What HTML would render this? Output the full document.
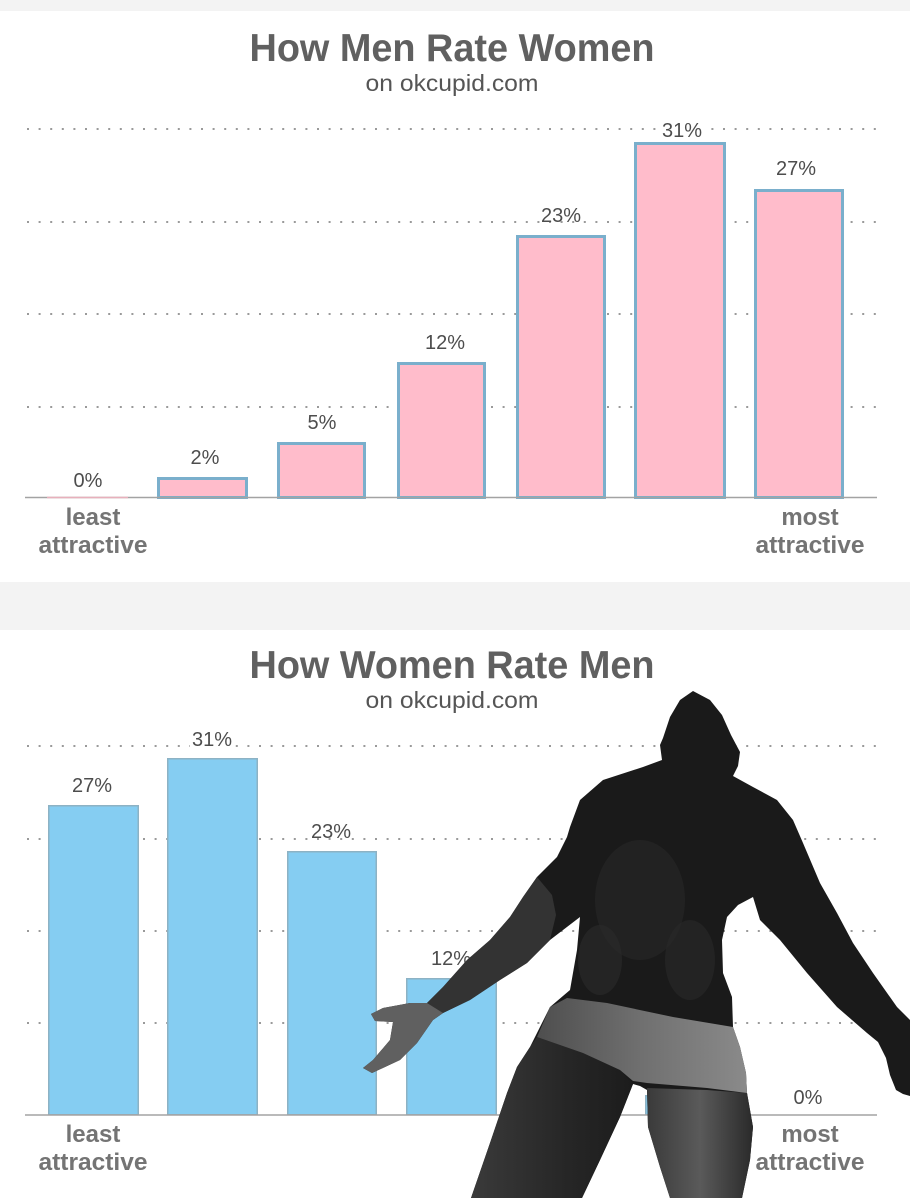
<!DOCTYPE html>
<html>
<head>
<meta charset="utf-8">
<style>
  html,body{margin:0;padding:0;background:#fff;}
  body{width:910px;height:1198px;overflow:hidden;}
  svg{display:block;}
  .title{font-family:"Liberation Sans",sans-serif;font-weight:bold;fill:#606060;}
  .sub{font-family:"Liberation Sans",sans-serif;fill:#555;}
  .lbl{font-family:"Liberation Sans",sans-serif;fill:#4d4d4d;font-size:20px;}
  .ax{font-family:"Liberation Sans",sans-serif;font-weight:bold;fill:#747474;font-size:24px;}
  .grid{stroke:#9a9a9a;stroke-width:2;stroke-dasharray:2 9.6;}
</style>
</head>
<body>
<svg width="910" height="1198" viewBox="0 0 910 1198" xmlns="http://www.w3.org/2000/svg">
  <defs>
    <linearGradient id="shorts" x1="0" y1="0" x2="1" y2="0">
      <stop offset="0" stop-color="#4e4e4e"/>
      <stop offset="0.5" stop-color="#707070"/>
      <stop offset="1" stop-color="#8a8a8a"/>
    </linearGradient>
    <linearGradient id="legR" x1="0" y1="0" x2="1" y2="0">
      <stop offset="0" stop-color="#3a3a3a"/>
      <stop offset="0.5" stop-color="#5a5a5a"/>
      <stop offset="1" stop-color="#2a2a2a"/>
    </linearGradient>
    <linearGradient id="legL" x1="0" y1="0" x2="1" y2="0">
      <stop offset="0" stop-color="#3a3a3a"/>
      <stop offset="0.6" stop-color="#262626"/>
      <stop offset="1" stop-color="#1c1c1c"/>
    </linearGradient>
  </defs>

  <rect x="0" y="0" width="910" height="1198" fill="#ffffff"/>
  <rect x="0" y="0" width="910" height="11" fill="#f3f3f3"/>
  <rect x="0" y="582" width="910" height="48" fill="#f3f3f3"/>

  <!-- ================= TOP CHART ================= -->
  <text class="title" x="452" y="61" font-size="39" text-anchor="middle" textLength="405" lengthAdjust="spacingAndGlyphs">How Men Rate Women</text>
  <text class="sub" x="452" y="91" font-size="23" text-anchor="middle" textLength="173" lengthAdjust="spacingAndGlyphs">on okcupid.com</text>

  <line class="grid" x1="27" y1="129" x2="877" y2="129"/>
  <line class="grid" x1="27" y1="222" x2="877" y2="222"/>
  <line class="grid" x1="27" y1="314" x2="877" y2="314"/>
  <line class="grid" x1="27" y1="407" x2="877" y2="407"/>

  <g fill="#ffbccb" stroke="#7aafcc" stroke-width="3">
    <rect x="158.5" y="478.5" width="88" height="19"/>
    <rect x="278.5" y="443.5" width="86" height="54"/>
    <rect x="398.5" y="363.5" width="86" height="134"/>
    <rect x="517.5" y="236.5" width="87" height="261"/>
    <rect x="635.5" y="143.5" width="89" height="354"/>
    <rect x="755.5" y="190.5" width="87" height="307"/>
  </g>
  <line x1="25" y1="497.5" x2="877" y2="497.5" stroke="#a3a3a3" stroke-width="1.5"/>
  <line x1="47" y1="497.5" x2="128" y2="497.5" stroke="#e8b0bc" stroke-width="1.5"/>

  <text class="lbl" x="88" y="487" text-anchor="middle">0%</text>
  <text class="lbl" x="205" y="464" text-anchor="middle">2%</text>
  <text class="lbl" x="322" y="429" text-anchor="middle">5%</text>
  <text class="lbl" x="445" y="349" text-anchor="middle">12%</text>
  <text class="lbl" x="561" y="222" text-anchor="middle">23%</text>
  <rect x="660" y="118" width="44" height="22" fill="#fff"/>
  <text class="lbl" x="682" y="137" text-anchor="middle">31%</text>
  <text class="lbl" x="796" y="175" text-anchor="middle">27%</text>

  <text class="ax" x="93" y="525" text-anchor="middle">least</text>
  <text class="ax" x="93" y="553" text-anchor="middle" textLength="109" lengthAdjust="spacingAndGlyphs">attractive</text>
  <text class="ax" x="810" y="525" text-anchor="middle">most</text>
  <text class="ax" x="810" y="553" text-anchor="middle" textLength="109" lengthAdjust="spacingAndGlyphs">attractive</text>

  <!-- ================= BOTTOM CHART ================= -->
  <text class="title" x="452" y="678" font-size="39" text-anchor="middle" textLength="405" lengthAdjust="spacingAndGlyphs">How Women Rate Men</text>
  <text class="sub" x="452" y="708" font-size="23" text-anchor="middle" textLength="173" lengthAdjust="spacingAndGlyphs">on okcupid.com</text>

  <line class="grid" x1="27" y1="746" x2="877" y2="746"/>
  <line class="grid" x1="27" y1="839" x2="877" y2="839"/>
  <line class="grid" x1="27" y1="931" x2="877" y2="931"/>
  <line class="grid" x1="27" y1="1023" x2="877" y2="1023"/>

  <g fill="#85cdf2" stroke="#8db2c4" stroke-width="1.5">
    <rect x="48.75" y="805.75" width="89.5" height="309"/>
    <rect x="167.75" y="758.75" width="89.5" height="356"/>
    <rect x="287.75" y="851.75" width="88.5" height="263"/>
    <rect x="406.75" y="978.75" width="89.5" height="136"/>
    <rect x="526.75" y="1059.75" width="89.5" height="55"/>
    <rect x="645.75" y="1095.75" width="89.5" height="19"/>
  </g>
  <line x1="25" y1="1115" x2="877" y2="1115" stroke="#a3a3a3" stroke-width="1.5"/>

  <text class="lbl" x="92" y="792" text-anchor="middle">27%</text>
  <rect x="190" y="733" width="44" height="22" fill="#fff"/>
  <text class="lbl" x="212" y="746" text-anchor="middle">31%</text>
  <text class="lbl" x="331" y="838" text-anchor="middle">23%</text>
  <text class="lbl" x="451" y="965" text-anchor="middle">12%</text>
  <text class="lbl" x="571" y="1046" text-anchor="middle">5%</text>
  <text class="lbl" x="690" y="1082" text-anchor="middle">2%</text>
  <text class="lbl" x="808" y="1104" text-anchor="middle">0%</text>

  <text class="ax" x="93" y="1142" text-anchor="middle">least</text>
  <text class="ax" x="93" y="1170" text-anchor="middle" textLength="109" lengthAdjust="spacingAndGlyphs">attractive</text>
  <text class="ax" x="810" y="1142" text-anchor="middle">most</text>
  <text class="ax" x="810" y="1170" text-anchor="middle" textLength="109" lengthAdjust="spacingAndGlyphs">attractive</text>

  <!-- ================= FIGURE (silhouette) ================= -->
  <g>
    <polygon fill="#1a1a1a" points="693,691 710,700 722,715 731,735 740,752 738,766 733,776 753,787 777,800 793,820 803,843 820,883 837,913 853,943 873,973 897,1007 910,1020 910,1096 903,1094 896,1090 890,1075 886,1058 878,1042 867,1033 837,1007 807,973 780,940 760,920 753,897 738,905 727,917 722,940 723,973 732,997 733,1027 740,1047 746,1073 747,1093 753,1127 750,1160 742,1198 670,1198 660,1167 648,1127 647,1090 640,1086 633,1084 620,1117 600,1160 582,1198 471,1198 490,1143 507,1093 517,1067 530,1047 537,1033 550,1007 570,990 577,950 580,917 550,940 527,963 500,980 470,1000 443,1013 433,1020 417,1043 400,1060 372,1073 363,1068 373,1060 390,1040 393,1022 375,1021 371,1014 383,1008 410,1003 427,1003 443,987 467,960 490,940 510,917 523,897 537,877 557,857 567,837 570,827 580,800 603,780 643,767 662,760 660,745 663,738 670,717 680,700"/>
    <polygon fill="#383838" opacity="0.85" points="427,1003 443,987 467,960 490,940 510,917 523,897 537,877 552,895 556,915 550,940 527,963 500,980 470,1000 443,1013 433,1020"/>
    <polygon fill="#606060" points="433,1020 417,1043 400,1060 372,1073 363,1068 373,1060 390,1040 393,1022 375,1021 371,1014 383,1008 410,1003 427,1003 443,1013"/>
    <ellipse cx="640" cy="900" rx="45" ry="60" fill="#262626" opacity="0.7"/>
    <ellipse cx="600" cy="960" rx="22" ry="35" fill="#2c2c2c" opacity="0.6"/>
    <ellipse cx="690" cy="960" rx="25" ry="40" fill="#2a2a2a" opacity="0.6"/>
    <polygon fill="url(#legL)" points="537,1037 583,1053 620,1070 633,1084 620,1117 600,1160 582,1198 471,1198 490,1143 507,1093 517,1067 530,1047"/>
    <polygon fill="url(#legR)" points="647,1088 707,1090 747,1093 753,1127 750,1160 742,1198 670,1198 660,1167 648,1127"/>
    <polygon fill="url(#shorts)" points="567,998 607,1003 673,1017 733,1027 740,1047 746,1073 747,1093 707,1088 647,1083 633,1081 620,1070 583,1053 537,1037 550,1007"/>
  </g>
</svg>
</body>
</html>
